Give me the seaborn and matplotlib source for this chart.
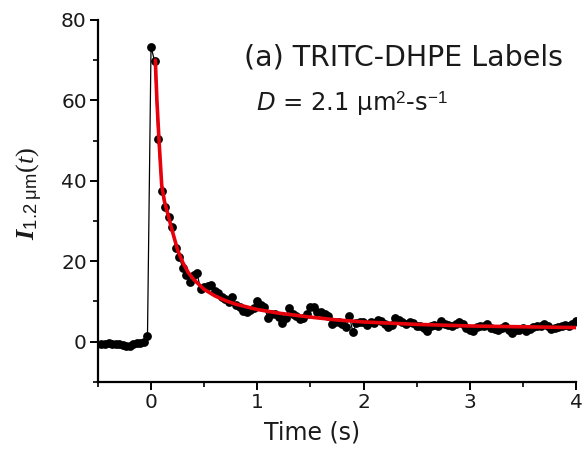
import numpy as np
import pandas as pd
import seaborn as sns
import matplotlib.pyplot as plt
from matplotlib.ticker import MultipleLocator

# sampled trace: time step ~1/30 s, first point at -0.467 s
t_start = -0.467
dt = 1 / 30
baseline = [-0.5, -0.6, -0.4, -0.6, -0.7, -0.5, -0.8, -1.1, -1.0, -0.6, -0.4, -0.3, -0.2, 1.5]
decay = [73.3, 69.8, 50.4, 37.4, 33.5, 31.0, 28.5, 23.3, 21.0, 18.2,
         16.5, 14.8, 16.5, 17.0, 13.0, 13.5, 13.8, 14.2, 12.7, 12.0,
         11.0, 10.5, 9.8, 11.0, 9.0, 8.5, 7.7, 7.3, 7.8, 8.3,
         10.0, 9.0, 8.5, 6.0, 6.8, 7.0, 6.2, 4.6, 6.0, 8.3,
         7.0, 6.5, 5.6, 6.0, 7.0, 8.6, 8.7, 7.3, 7.3, 6.8,
         6.5, 4.4, 4.8, 5.0, 4.5, 3.6, 6.5, 2.3, 4.6, 5.0,
         4.8, 4.2, 5.0, 4.6, 5.5, 5.2, 4.5, 3.6, 4.2, 5.9,
         5.4, 4.8, 4.5, 4.8, 4.6, 3.8, 4.0, 3.5, 2.7, 3.8,
         4.2, 4.0, 5.1, 4.5, 4.2, 3.9, 4.4, 4.8, 4.3, 3.4,
         3.0, 2.7, 3.6, 3.8, 3.9, 4.4, 3.5, 3.2, 3.0, 3.4,
         3.8, 2.8, 2.1, 3.0, 2.9, 3.4, 2.7, 3.1, 3.6, 3.8,
         3.8, 4.4, 3.8, 3.2, 3.3, 3.7, 3.9, 4.2, 3.8, 4.5, 5.2]

# fitted curve
fit_t = [0.04, 0.055, 0.075, 0.1, 0.125, 0.15, 0.2, 0.25, 0.3, 0.35, 0.4, 0.5,
         0.6, 0.7, 0.8, 1.0, 1.2, 1.5, 1.75, 2.0, 2.5, 3.0, 3.5, 4.0]
fit_v = [70, 60, 50, 39, 35, 32.5, 27.5, 22.8, 19.6, 17.2, 15.5, 13.0,
         11.4, 10.2, 9.3, 8.0, 7.1, 6.1, 5.4, 4.9, 4.3, 3.9, 3.7, 3.5]

vals = baseline + decay
df = pd.DataFrame({'t': t_start + dt * np.arange(len(vals)), 'I': vals})
fit = pd.DataFrame({'t': fit_t, 'I': fit_v})

sns.set_theme(style='ticks')
plt.rcParams['font.family'] = ['DejaVu Sans']
plt.rcParams['mathtext.fontset'] = 'custom'
plt.rcParams['mathtext.rm'] = 'Liberation Serif'
plt.rcParams['mathtext.it'] = 'Liberation Serif:italic'
plt.rcParams['mathtext.bf'] = 'Liberation Serif:italic:bold'
plt.rcParams['mathtext.sf'] = 'Liberation Sans'
plt.rcParams['mathtext.tt'] = 'DejaVu Sans:italic'

fig = plt.figure(figsize=(5.83, 4.53), dpi=100)
ax = fig.add_axes([0.168, 0.157, 0.82, 0.799])

sns.lineplot(data=df, x='t', y='I', color='black', lw=0.9, ax=ax, sort=False, zorder=2)
sns.scatterplot(data=df, x='t', y='I', color='black', s=40, edgecolor='black', linewidth=0, ax=ax, zorder=3)
sns.lineplot(data=fit, x='t', y='I', color='#e8000b', lw=2.6, ax=ax, sort=False, zorder=4)

ax.set_xlim(-0.5, 4)
ax.set_ylim(-10, 80)
ax.xaxis.set_major_locator(MultipleLocator(1))
ax.xaxis.set_minor_locator(MultipleLocator(0.5))
ax.yaxis.set_major_locator(MultipleLocator(20))
ax.yaxis.set_minor_locator(MultipleLocator(10))
ax.tick_params(which='major', length=6, width=1.4, labelsize=14.5, color='black', labelcolor='#1a1a1a', pad=2)
ax.tick_params(which='minor', length=3.5, width=1.2, color='black')
sns.despine(ax=ax)
for s in ['left', 'bottom']:
    ax.spines[s].set_linewidth(1.6)
    ax.spines[s].set_color('black')

ax.set_xlabel('Time (s)', fontsize=17, color='#1a1a1a')
ax.xaxis.set_label_coords(0.448, -0.106)
ax.set_ylabel(r'$\mathbf{I}_{\mathsf{1.2\ \mu m}}(\mathit{t})$', fontsize=19, color='#1a1a1a')
ax.yaxis.set_label_coords(-0.11, 0.522)

ax.text(0.973, 0.896, '(a) TRITC-DHPE Labels', transform=ax.transAxes, ha='right', va='center',
        fontsize=20.5, color='#1a1a1a')
ax.text(0.331, 0.768, r'$\mathtt{D}$ = 2.1 μm$^{\mathsf{2}}$-s$^{\mathsf{-1}}$', transform=ax.transAxes,
        ha='left', va='center', fontsize=17.5, color='#1a1a1a')

fig.savefig('out.png', dpi=100)
